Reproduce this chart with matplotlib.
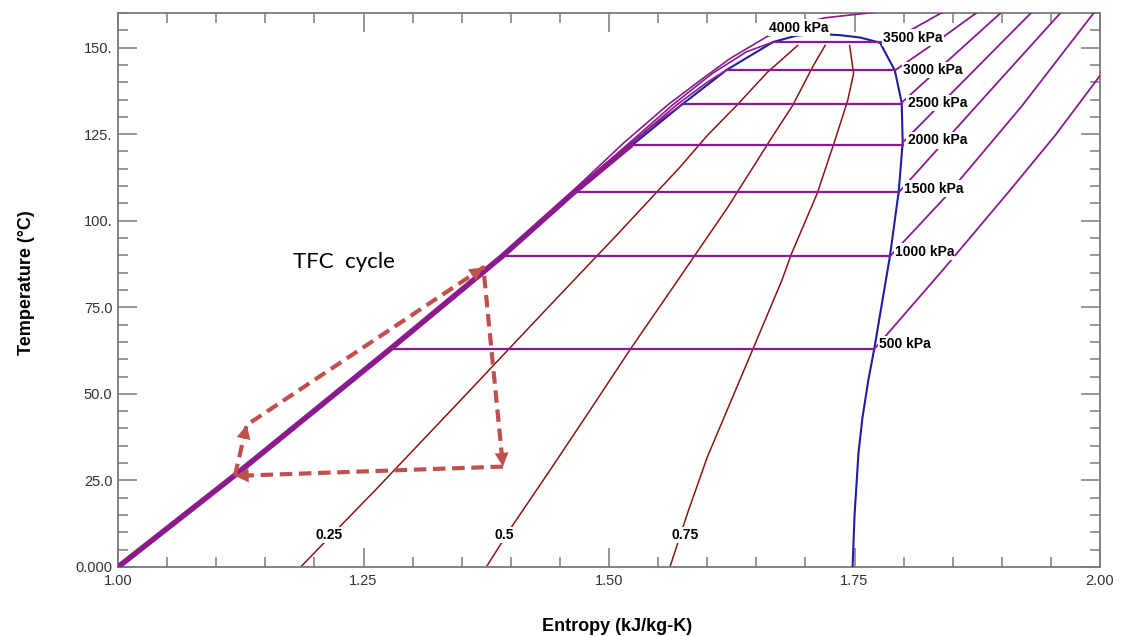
import matplotlib.pyplot as plt
from matplotlib.ticker import MultipleLocator

plt.rcParams['font.family'] = ['Liberation Sans', 'DejaVu Sans']

# saturation dome (blue), liquid side then vapour side
liq_s = [1.000, 1.119, 1.277, 1.391, 1.463, 1.523, 1.574, 1.620, 1.667, 1.690, 1.710]
liq_T = [0.0, 26.5, 62.9, 89.7, 107.9, 121.7, 133.5, 143.6, 151.6, 153.4, 154.0]
vap_s = [1.710, 1.735, 1.756, 1.776, 1.791, 1.798, 1.799, 1.795, 1.786, 1.770, 1.764, 1.758, 1.754, 1.750, 1.748]
vap_T = [154.0, 153.6, 152.9, 151.4, 143.4, 134.1, 122.6, 108.5, 89.7, 62.9, 53.9, 43.0, 32.9, 15.0, 0.0]

# isobars: saturation temperature, liquid / vapour entropy, labels
p_names = ['500 kPa', '1000 kPa', '1500 kPa', '2000 kPa', '2500 kPa', '3000 kPa', '3500 kPa']
p_tsat = [62.9, 89.7, 108.2, 121.9, 133.8, 143.5, 151.6]
p_sliq = [1.277, 1.391, 1.463, 1.523, 1.574, 1.620, 1.667]
p_svap = [1.770, 1.786, 1.795, 1.799, 1.798, 1.791, 1.776]
lab_s = [1.775, 1.791, 1.800, 1.804, 1.804, 1.799, 1.779]
lab_T = [64.3, 91.1, 109.3, 123.2, 134.1, 143.6, 152.9]

# superheated parts of the isobars
sh500_s = [1.770, 1.840, 1.908, 1.955, 2.005]
sh500_T = [62.9, 85.8, 108.7, 124.9, 143.8]
sh1000_s = [1.786, 1.842, 1.920, 1.993, 2.005]
sh1000_T = [89.7, 106.7, 133.0, 159.8, 164.0]
sh1500_s = [1.795, 1.880, 1.959, 1.975]
sh1500_T = [108.2, 135.0, 159.8, 165.0]
sh2000_s = [1.799, 1.865, 1.929, 1.945]
sh2000_T = [122.6, 141.5, 159.8, 164.5]
sh2500_s = [1.798, 1.850, 1.898, 1.912]
sh2500_T = [134.1, 147.5, 159.8, 163.5]
sh3000_s = [1.791, 1.835, 1.873, 1.890]
sh3000_T = [143.4, 152.0, 159.8, 163.0]
sh3500_s = [1.776, 1.810, 1.837, 1.860]
sh3500_T = [151.4, 155.5, 159.8, 163.0]

# compressed liquid parts fanning out near the top
cl4000_s = [1.000, 1.119, 1.277, 1.391, 1.463, 1.515, 1.560, 1.595, 1.623, 1.661, 1.700, 1.720, 1.758, 1.800]
cl4000_T = [0.0, 26.5, 62.9, 89.8, 108.6, 122.5, 133.5, 141.0, 146.8, 153.2, 157.3, 158.6, 159.8, 161.0]
cl3500_s = [1.463, 1.520, 1.565, 1.605, 1.640, 1.667]
cl3500_T = [108.2, 122.3, 133.5, 142.5, 148.8, 151.6]
cl3000_s = [1.480, 1.521, 1.570, 1.600, 1.620]
cl3000_T = [112.0, 122.0, 133.7, 140.0, 143.6]
cl2500_s = [1.500, 1.545, 1.574]
cl2500_T = [117.0, 127.5, 133.5]
band_s = [1.000, 1.119, 1.277, 1.391, 1.463, 1.523]
band_T = [0.0, 26.5, 62.9, 89.7, 107.9, 122.0]

# quality lines
q_names = ['0.25', '0.5', '0.75']
q_lab_s = [1.215, 1.393, 1.577]
q25_s = [1.186, 1.215, 1.262, 1.350, 1.440, 1.510, 1.572, 1.600, 1.630, 1.661, 1.692]
q25_T = [0.0, 8.5, 22.2, 48.5, 75.6, 96.5, 115.4, 124.6, 133.3, 142.8, 150.6]
q50_s = [1.375, 1.402, 1.440, 1.480, 1.521, 1.570, 1.620, 1.667, 1.687, 1.708, 1.720]
q50_T = [0.0, 12.1, 28.0, 45.0, 62.6, 82.8, 103.5, 124.6, 133.3, 144.8, 150.6]
q75_s = [1.562, 1.580, 1.600, 1.646, 1.676, 1.686, 1.712, 1.730, 1.743, 1.749, 1.745]
q75_T = [0.0, 15.6, 31.7, 62.6, 82.8, 90.6, 107.9, 123.2, 134.7, 142.5, 150.6]

# TFC cycle
cyc_s = [1.119, 1.131, 1.372, 1.392, 1.119]
cyc_T = [26.3, 41.0, 86.5, 29.0, 26.3]

x_ticks = [1.00, 1.25, 1.50, 1.75, 2.00]
x_tick_labels = ['1.00', '1.25', '1.50', '1.75', '2.00']
y_ticks = [0, 25, 50, 75, 100, 125, 150]
y_tick_labels = ['0.000', '25.0', '50.0', '75.0', '100.', '125.', '150.']

purple = '#8B1A8E'
red = '#8E1414'
blue = '#1E1EA0'
cyc_col = '#C0504D'

fig = plt.figure(figsize=(11.24, 6.36), dpi=100)
ax = fig.add_axes([0.105, 0.1085, 0.8737, 0.8711])
ax.set_xlim(1.0, 2.0)
ax.set_ylim(0, 160)

# quality lines
for qs, qT in [(q25_s, q25_T), (q50_s, q50_T), (q75_s, q75_T)]:
    ax.plot(qs, qT, color=red, lw=1.1, zorder=2)

# dome
ax.plot(liq_s + vap_s, liq_T + vap_T, color=blue, lw=1.5, zorder=3)

# isobars
ax.plot(band_s, band_T, color=purple, lw=4, solid_capstyle='butt', zorder=4)
for cs, cT in [(cl4000_s, cl4000_T), (cl3500_s, cl3500_T), (cl3000_s, cl3000_T), (cl2500_s, cl2500_T)]:
    ax.plot(cs, cT, color=purple, lw=1.2, zorder=4)
for t, s1, s2 in zip(p_tsat, p_sliq, p_svap):
    ax.plot([s1, s2], [t, t], color=purple, lw=1.6, zorder=4)
for hs, hT in [(sh500_s, sh500_T), (sh1000_s, sh1000_T), (sh1500_s, sh1500_T), (sh2000_s, sh2000_T),
               (sh2500_s, sh2500_T), (sh3000_s, sh3000_T), (sh3500_s, sh3500_T)]:
    ax.plot(hs, hT, color=purple, lw=1.3, zorder=4)

box = dict(facecolor='white', edgecolor='none', pad=0.8)
for name, s, t in zip(p_names, lab_s, lab_T):
    ax.text(s, t, name, ha='left', va='center', fontsize=10, fontweight='bold', bbox=box, zorder=6)
ax.text(1.663, 155.8, '4000 kPa', ha='left', va='center', fontsize=10, fontweight='bold', bbox=box, zorder=6)
for name, s in zip(q_names, q_lab_s):
    ax.text(s, 9.2, name, ha='center', va='center', fontsize=10, fontweight='bold', bbox=box, zorder=6)

# cycle with arrow heads
ax.plot(cyc_s, cyc_T, color=cyc_col, lw=3, dashes=(3, 1.6), zorder=7)
for i in range(4):
    s0, t0 = cyc_s[i], cyc_T[i]
    s1, t1 = cyc_s[i + 1], cyc_T[i + 1]
    back = 0.12 if i > 0 else 0.5
    ax.annotate('', xy=(s1, t1), xytext=(s1 - back * (s1 - s0), t1 - back * (t1 - t0)),
                arrowprops=dict(arrowstyle='-|>,head_length=0.75,head_width=0.38', color=cyc_col,
                                lw=0.1, mutation_scale=13, shrinkA=0, shrinkB=0), zorder=8)
ax.text(1.178, 88, 'TFC  cycle', family=['Lato', 'DejaVu Sans'], fontsize=16, ha='left', va='center')

# axes styling
ax.set_xticks(x_ticks)
ax.set_xticklabels(x_tick_labels)
ax.set_yticks(y_ticks)
ax.set_yticklabels(y_tick_labels)
ax.xaxis.set_minor_locator(MultipleLocator(0.05))
ax.yaxis.set_minor_locator(MultipleLocator(5))
ax.tick_params(which='both', direction='in', top=True, right=True, color='#7a7a7a', width=1.1,
               labelcolor='#333333', labelsize=10.5)
ax.tick_params(which='major', length=14)
ax.tick_params(which='minor', length=7)
ax.tick_params(axis='x', pad=5)
ax.tick_params(axis='y', pad=4)
for sp in ax.spines.values():
    sp.set_color('#7a7a7a')
    sp.set_linewidth(1.3)

ax.set_xlabel('Entropy (kJ/kg-K)', fontsize=13, fontweight='bold', va='center')
ax.set_ylabel('Temperature (°C)', fontsize=13, fontweight='bold', va='center')
ax.xaxis.set_label_coords(0.508, -0.108)
ax.yaxis.set_label_coords(-0.093, 0.513)

fig.savefig('out.png', dpi=100)
